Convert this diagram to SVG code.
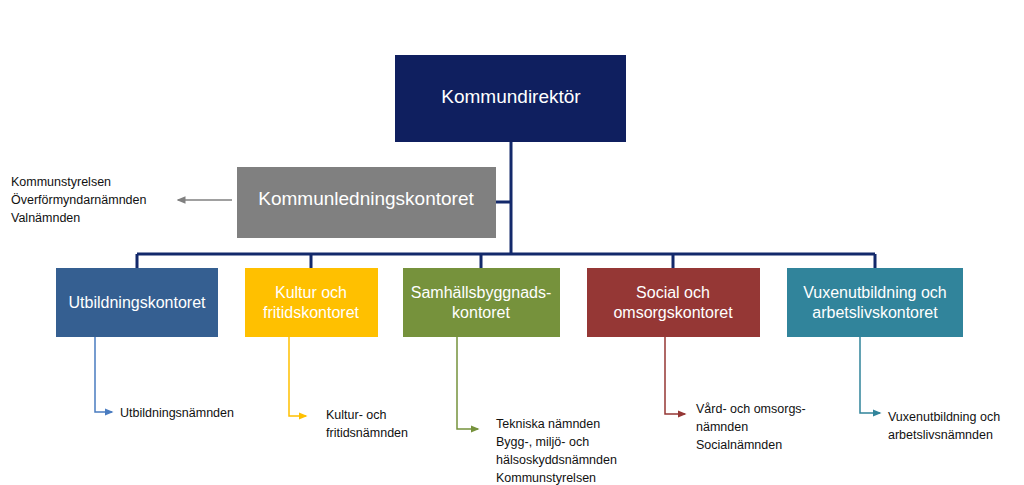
<svg xmlns="http://www.w3.org/2000/svg" width="1024" height="485" viewBox="0 0 1024 485">
<style>
text{font-family:"Liberation Sans",Arial,sans-serif}
.w{fill:#fff;text-anchor:middle}
.big{font-size:19px}
.mid{font-size:16px}
.s{font-size:12.5px;fill:#111}
.bus{stroke:#13296b;stroke-width:3;fill:none}
</style>
<defs>
<marker id="ag" markerWidth="6" markerHeight="6" refX="5" refY="3" orient="auto"><path d="M0,0.5 L6,3 L0,5.5z" fill="#808080"/></marker>
<marker id="ab" markerWidth="6" markerHeight="6" refX="5" refY="3" orient="auto"><path d="M0,0.5 L6,3 L0,5.5z" fill="#4a7cc0"/></marker>
<marker id="ay" markerWidth="6" markerHeight="6" refX="5" refY="3" orient="auto"><path d="M0,0.5 L6,3 L0,5.5z" fill="#ffc000"/></marker>
<marker id="agr" markerWidth="6" markerHeight="6" refX="5" refY="3" orient="auto"><path d="M0,0.5 L6,3 L0,5.5z" fill="#76923c"/></marker>
<marker id="ar" markerWidth="6" markerHeight="6" refX="5" refY="3" orient="auto"><path d="M0,0.5 L6,3 L0,5.5z" fill="#953735"/></marker>
<marker id="at" markerWidth="6" markerHeight="6" refX="5" refY="3" orient="auto"><path d="M0,0.5 L6,3 L0,5.5z" fill="#31849b"/></marker>
</defs>
<g id="connectors">
<path class="bus" d="M511,142 V254 M496,202 H511 M137,254 H875 M137,254 V268 M311,254 V268 M481,254 V268 M673,254 V268 M875,254 V268"/>
<path d="M232,200 H178" stroke="#808080" stroke-width="1.5" marker-end="url(#ag)"/>
<path d="M95,337 V412 H112" stroke="#4a7cc0" stroke-width="1.5" fill="none" marker-end="url(#ab)"/>
<path d="M289,337 V416 H306" stroke="#ffc000" stroke-width="1.5" fill="none" marker-end="url(#ay)"/>
<path d="M457,337 V429 H478" stroke="#76923c" stroke-width="1.5" fill="none" marker-end="url(#agr)"/>
<path d="M665,337 V414 H685" stroke="#953735" stroke-width="1.5" fill="none" marker-end="url(#ar)"/>
<path d="M860,337 V413 H880" stroke="#31849b" stroke-width="1.5" fill="none" marker-end="url(#at)"/>
</g>
<g id="kommundirektor"><rect x="395" y="55" width="231" height="87" fill="#0f1f5f"/><text class="w big" x="511" y="103">Kommundirektör</text></g>
<g id="kommunledning"><rect x="237" y="167" width="259" height="71" fill="#808080"/><text class="w big" x="366" y="205">Kommunledningskontoret</text></g>
<g id="ks-list"><text class="s" x="11" y="186">Kommunstyrelsen</text><text class="s" x="11" y="204">Överförmyndarnämnden</text><text class="s" x="11" y="222">Valnämnden</text></g>
<g id="utb"><rect x="56" y="268" width="162" height="69" fill="#355f91"/><text class="w mid" x="137" y="308">Utbildningskontoret</text></g>
<g id="kultur"><rect x="245" y="268" width="133" height="69" fill="#ffc000"/><text class="w mid" x="311" y="298">Kultur och</text><text class="w mid" x="311" y="318">fritidskontoret</text></g>
<g id="samh"><rect x="403" y="268" width="157" height="69" fill="#76923c"/><text class="w mid" x="481" y="298">Samhällsbyggnads-</text><text class="w mid" x="481" y="318">kontoret</text></g>
<g id="social"><rect x="587" y="268" width="173" height="69" fill="#953735"/><text class="w mid" x="673" y="298">Social och</text><text class="w mid" x="673" y="318">omsorgskontoret</text></g>
<g id="vuxen"><rect x="787" y="268" width="176" height="69" fill="#31849b"/><text class="w mid" x="875" y="298">Vuxenutbildning och</text><text class="w mid" x="875" y="318">arbetslivskontoret</text></g>
<g id="utb-n"><text class="s" x="120" y="417">Utbildningsnämnden</text></g>
<g id="kultur-n"><text class="s" x="326" y="419">Kultur- och</text><text class="s" x="326" y="437">fritidsnämnden</text></g>
<g id="samh-n"><text class="s" x="496" y="428">Tekniska nämnden</text><text class="s" x="496" y="446">Bygg-, miljö- och</text><text class="s" x="496" y="464">hälsoskyddsnämnden</text><text class="s" x="496" y="482">Kommunstyrelsen</text></g>
<g id="social-n"><text class="s" x="696" y="413">Vård- och omsorgs-</text><text class="s" x="696" y="431">nämnden</text><text class="s" x="696" y="449">Socialnämnden</text></g>
<g id="vuxen-n"><text class="s" x="888" y="421">Vuxenutbildning och</text><text class="s" x="888" y="439">arbetslivsnämnden</text></g>
</svg>
